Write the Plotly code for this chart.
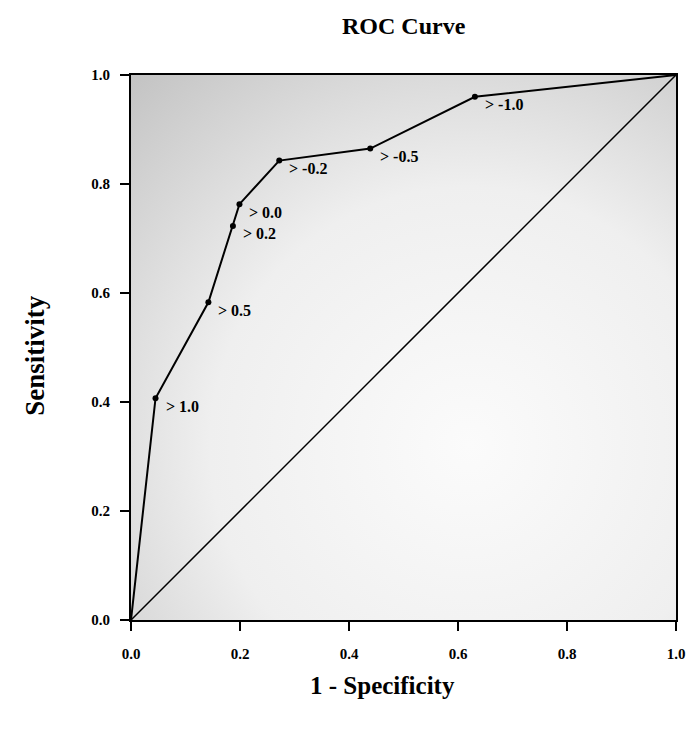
import base64
import plotly.graph_objects as go

# ROC points (1 - specificity, sensitivity)
fpr = [0.0, 0.045, 0.142, 0.187, 0.199, 0.272, 0.439, 0.631, 1.0]
tpr = [0.0, 0.407, 0.583, 0.723, 0.763, 0.843, 0.865, 0.960, 1.0]
cut_labels = ["", "> 1.0", "> 0.5", "> 0.2", "> 0.0", "> -0.2", "> -0.5", "> -1.0", ""]
tick_vals = [0.0, 0.2, 0.4, 0.6, 0.8, 1.0]
tick_text = ["0.0", "0.2", "0.4", "0.6", "0.8", "1.0"]

FONT = "Liberation Serif"

svg = (
    '<svg xmlns="http://www.w3.org/2000/svg" width="200" height="200" preserveAspectRatio="none" viewBox="0 0 200 200">'
    '<defs><radialGradient id="g" cx="0.62" cy="0.68" r="0.95" gradientUnits="objectBoundingBox">'
    '<stop offset="0" stop-color="#fbfbfb"/>'
    '<stop offset="0.5" stop-color="#efefef"/>'
    '<stop offset="1" stop-color="#c0c0c0"/>'
    '</radialGradient></defs>'
    '<rect x="0" y="0" width="200" height="200" fill="url(#g)"/></svg>'
)
bg_src = "data:image/svg+xml;base64," + base64.b64encode(svg.encode()).decode()

fig = go.Figure()

# diagonal reference
fig.add_trace(go.Scatter(x=[0, 1], y=[0, 1], mode="lines",
                         line=dict(color="black", width=1.5), hoverinfo="skip",
                         showlegend=False))
# ROC curve
fig.add_trace(go.Scatter(x=fpr, y=tpr, mode="lines", line=dict(color="black", width=2),
                         showlegend=False))
fig.add_trace(go.Scatter(x=fpr[1:-1], y=tpr[1:-1], mode="markers",
                         marker=dict(color="black", size=6), showlegend=False))

for xv, yv, lab in zip(fpr, tpr, cut_labels):
    if not lab:
        continue
    fig.add_annotation(x=xv, y=yv, text="<b>" + lab + "</b>", showarrow=False,
                       xanchor="left", yanchor="middle",
                       xshift=8, yshift=-8, font=dict(family=FONT, size=16, color="black"))

fig.add_layout_image(dict(source=bg_src, xref="x", yref="y", x=0, y=1, sizex=1, sizey=1,
                          sizing="stretch", layer="below", xanchor="left", yanchor="top"))

axis_common = dict(range=[0, 1], tickvals=tick_vals,
                   ticktext=["<b>" + t + "</b>" for t in tick_text], showgrid=False,
                   zeroline=False, showline=True, linecolor="black", linewidth=2,
                   mirror=True, ticks="outside", ticklen=9, tickwidth=2, tickcolor="black",
                   tickfont=dict(family=FONT, size=15, color="black"))

fig.update_xaxes(**axis_common, ticklabelstandoff=10)
fig.update_yaxes(**axis_common, ticklabelstandoff=7)

fig.add_annotation(text="<b>ROC Curve</b>", xref="paper", yref="paper", x=0.5, y=1,
                   yshift=49, yanchor="middle", showarrow=False,
                   font=dict(family=FONT, size=24, color="black"))
fig.add_annotation(text="<b>1 - Specificity</b>", xref="paper", yref="paper", x=0.462, y=0,
                   yshift=-65, yanchor="middle", showarrow=False,
                   font=dict(family=FONT, size=25, color="black"))
fig.add_annotation(text="<b>Sensitivity</b>", xref="paper", yref="paper", x=0, y=0.485,
                   xshift=-96, xanchor="center", yanchor="middle", textangle=-90, showarrow=False,
                   font=dict(family=FONT, size=27, color="black"))

fig.update_layout(width=697, height=734, margin=dict(l=131, r=16, t=75, b=114),
                  paper_bgcolor="white", plot_bgcolor="rgba(0,0,0,0)",
                  font=dict(family=FONT, color="black"))

fig.write_html("out.html")
